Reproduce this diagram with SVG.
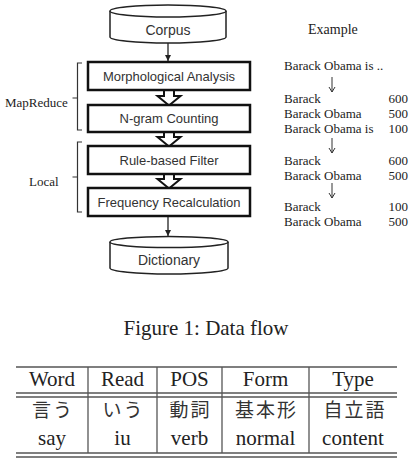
<svg xmlns="http://www.w3.org/2000/svg" width="411" height="465" viewBox="0 0 411 465">
<defs>
<style>
.bg{fill:#fff}
.box{fill:#fff;stroke:#111;stroke-width:2.5}
.cyl{fill:#fff;stroke:#222;stroke-width:1.5}
.sans{font-family:"Liberation Sans",Arial,sans-serif;fill:#333;text-anchor:middle}
.bt{font-size:13px}
.ct{font-size:14px}
.serif{font-family:"Liberation Serif","Times New Roman",serif;fill:#222}
.s13{font-size:13px}
.big{font-size:21px;text-anchor:middle}
.cjk{font-family:"Liberation Serif","Noto Sans CJK JP",serif;font-size:19px;letter-spacing:2px;text-anchor:middle;fill:#333}
.num{text-anchor:end}
.thin{fill:none;stroke:#222;stroke-width:1.3}
.brk{fill:none;stroke:#333;stroke-width:1.2}
.blk{fill:#fff;stroke:#111;stroke-width:2;stroke-linejoin:miter}
.rule{stroke:#555;stroke-width:1.3}
.down{fill:none;stroke:#333;stroke-width:1}
</style>
<marker id="ah" markerWidth="8" markerHeight="8" refX="6" refY="4" orient="auto" markerUnits="userSpaceOnUse">
<path d="M0,1 L6,4 L0,7 Z" fill="#222"/>
</marker>
</defs>
<rect class="bg" x="0" y="0" width="411" height="465"/>

<g id="connectors">
<line class="thin" x1="168" y1="43" x2="168" y2="61" marker-end="url(#ah)"/>
<line class="thin" x1="168" y1="217" x2="168" y2="236" marker-end="url(#ah)"/>
<path class="blk" d="M164,90 L164,96 L157.5,96 L169,105.5 L180.5,96 L174,96 L174,90"/>
<path class="blk" d="M164,132 L164,137 L157.5,137 L169,146.5 L180.5,137 L174,137 L174,132"/>
<path class="blk" d="M164,174 L164,179 L157.5,179 L169,188.5 L180.5,179 L174,179 L174,174"/>
</g>

<g id="corpus">
<path class="cyl" d="M110,11 L110,37 A58,6 0 0,0 226,37 L226,11"/>
<ellipse class="cyl" cx="168" cy="11" rx="58" ry="6"/>
<text class="sans ct" x="168" y="35">Corpus</text>
</g>

<g id="morph">
<rect class="box" x="88" y="62" width="162" height="28"/>
<text class="sans bt" x="169" y="81">Morphological Analysis</text>
</g>
<g id="ngram">
<rect class="box" x="88" y="105" width="162" height="27"/>
<text class="sans bt" x="169" y="123">N-gram Counting</text>
</g>
<g id="filter">
<rect class="box" x="88" y="146" width="162" height="28"/>
<text class="sans bt" x="169" y="165">Rule-based Filter</text>
</g>
<g id="freq">
<rect class="box" x="88" y="188" width="162" height="28"/>
<text class="sans bt" x="169" y="207">Frequency Recalculation</text>
</g>

<g id="dictionary">
<path class="cyl" d="M110,242 L110,268 A59,6 0 0,0 228,268 L228,242"/>
<ellipse class="cyl" cx="169" cy="242" rx="59" ry="5.5"/>
<text class="sans ct" x="169" y="265">Dictionary</text>
</g>

<g id="mapreduce">
<path class="brk" d="M82,63 L77.5,63 L77.5,130 L82,130 M77.5,98 L72.5,98"/>
<text class="serif s13" x="5" y="107">MapReduce</text>
</g>
<g id="local">
<path class="brk" d="M82,142 L77.5,142 L77.5,212 L82,212 M77.5,177 L72.5,177"/>
<text class="serif s13" x="29" y="186">Local</text>
</g>

<g id="example">
<text class="serif" font-size="14" x="308" y="34">Example</text>
<text class="serif s13" x="284" y="70">Barack Obama is ..</text>
<path class="down" d="M332,77 L332,92 M329,87 L332,92 L335,87"/>
<text class="serif s13" x="284" y="103">Barack</text>
<text class="serif s13 num" x="408" y="103">600</text>
<text class="serif s13" x="284" y="118">Barack Obama</text>
<text class="serif s13 num" x="408" y="118">500</text>
<text class="serif s13" x="284" y="133">Barack Obama is</text>
<text class="serif s13 num" x="408" y="133">100</text>
<path class="down" d="M332,138 L332,153 M329,148 L332,153 L335,148"/>
<text class="serif s13" x="284" y="165">Barack</text>
<text class="serif s13 num" x="408" y="165">600</text>
<text class="serif s13" x="284" y="180">Barack Obama</text>
<text class="serif s13 num" x="408" y="180">500</text>
<path class="down" d="M332,183 L332,198 M329,193 L332,198 L335,193"/>
<text class="serif s13" x="284" y="211">Barack</text>
<text class="serif s13 num" x="408" y="211">100</text>
<text class="serif s13" x="284" y="226">Barack Obama</text>
<text class="serif s13 num" x="408" y="226">500</text>
</g>

<g id="caption">
<text class="serif big" x="206" y="335">Figure 1: Data flow</text>
</g>

<g id="table">
<line class="rule" x1="16" y1="367" x2="397" y2="367" stroke-width="2"/>
<line class="rule" x1="16" y1="393" x2="397" y2="393"/>
<line class="rule" x1="16" y1="397" x2="397" y2="397"/>
<line class="rule" x1="16" y1="453" x2="397" y2="453"/>
<line class="rule" x1="16" y1="457" x2="397" y2="457"/>
<line class="rule" x1="88" y1="367" x2="88" y2="453"/>
<line class="rule" x1="157" y1="367" x2="157" y2="453"/>
<line class="rule" x1="222" y1="367" x2="222" y2="453"/>
<line class="rule" x1="309" y1="367" x2="309" y2="453"/>
<text class="serif big" x="52" y="386">Word</text>
<text class="serif big" x="122.5" y="386">Read</text>
<text class="serif big" x="189.5" y="386">POS</text>
<text class="serif big" x="265.5" y="386">Form</text>
<text class="serif big" x="353" y="386">Type</text>
<text class="cjk" x="53" y="417">言う</text>
<text class="cjk" x="123.5" y="417">いう</text>
<text class="cjk" x="190.5" y="417">動詞</text>
<text class="cjk" x="266.5" y="417">基本形</text>
<text class="cjk" x="355" y="417">自立語</text>
<text class="serif big" x="52" y="445">say</text>
<text class="serif big" x="122.5" y="445">iu</text>
<text class="serif big" x="189.5" y="445">verb</text>
<text class="serif big" x="265.5" y="445">normal</text>
<text class="serif big" x="353" y="445">content</text>
</g>
</svg>
